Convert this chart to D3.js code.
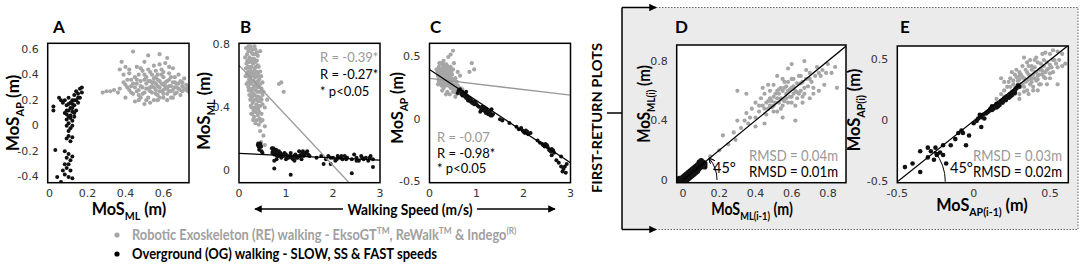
<!DOCTYPE html>
<html>
<head>
<meta charset="utf-8">
<script src="https://cdn.jsdelivr.net/npm/d3@7"></script>
<style>
  body { margin: 0; background: #fff; }
  text { font-family: Lato, "Open Sans", sans-serif; }
  .tick { font-family: "DejaVu Sans", Verdana, sans-serif; font-size: 11px; fill: #333; }
</style>
</head>
<body>
<svg id="chart"></svg>
<script>
// ---- data ----
// A: MoS_ML (x) vs MoS_AP (y)
const aGray = [[0.28,0.26],[0.30,0.27],[0.32,0.27],[0.34,0.28],[0.36,0.26],[0.37,0.29],[0.38,0.5],[0.39,0.4],[0.40,0.32],[0.40,0.22],[0.41,0.36],[0.42,0.28],[0.42,0.44],[0.43,0.31],[0.44,0.58],[0.44,0.25],[0.45,0.38],[0.45,0.19],[0.46,0.33],[0.46,0.46],[0.47,0.28],[0.47,0.4],[0.48,0.22],[0.48,0.35],[0.49,0.3],[0.49,0.43],[0.5,0.26],[0.5,0.5],[0.5,0.17],[0.51,0.33],[0.51,0.38],[0.52,0.22],[0.52,0.55],[0.52,0.29],[0.53,0.35],[0.53,0.42],[0.54,0.26],[0.54,0.31],[0.55,0.2],[0.55,0.47],[0.55,0.37],[0.56,0.28],[0.56,0.33],[0.57,0.24],[0.57,0.4],[0.58,0.56],[0.58,0.3],[0.58,0.35],[0.59,0.27],[0.59,0.44],[0.6,0.22],[0.6,0.32],[0.6,0.38],[0.61,0.29],[0.61,0.49],[0.62,0.53],[0.62,0.25],[0.62,0.35],[0.63,0.31],[0.63,0.41],[0.64,0.27],[0.64,0.22],[0.65,0.34],[0.65,0.45],[0.66,0.3],[0.66,0.38],[0.67,0.26],[0.67,0.33],[0.68,0.29],[0.68,0.4],[0.69,0.24],[0.69,0.35],[0.7,0.31],[0.7,0.27],[0.71,0.37],[0.72,0.32],[0.72,0.28],[0.73,0.3],[0.74,0.26],[0.75,0.28],[0.76,0.25],[0.78,0.24],[0.47,0.2],[0.53,0.18],[0.43,0.36],[0.57,0.2],[0.65,0.22],[0.45,0.3],[0.5,0.36],[0.55,0.3],[0.6,0.28],[0.54,0.4],
  [0.44,0.33],[0.46,0.27],[0.48,0.31],[0.49,0.25],[0.51,0.29],[0.52,0.35],[0.53,0.27],[0.54,0.34],[0.56,0.25],[0.56,0.38],[0.57,0.31],[0.58,0.27],[0.59,0.33],[0.6,0.25],[0.61,0.34],[0.62,0.29],[0.63,0.27],[0.63,0.36],[0.64,0.31],[0.65,0.28],[0.66,0.25],[0.66,0.34],[0.67,0.3],[0.68,0.33],[0.69,0.28],[0.7,0.34],[0.71,0.29],[0.73,0.27],[0.74,0.31],[0.76,0.29],[0.77,0.27],[0.5,0.4],[0.48,0.45],[0.52,0.44],[0.56,0.43],[0.6,0.42],[0.47,0.24],[0.51,0.2],[0.58,0.22],[0.62,0.2],[0.41,0.3],[0.43,0.26],[0.39,0.34],[0.46,0.36],[0.55,0.34],[0.53,0.3],[0.57,0.36],[0.61,0.31],[0.64,0.38],[0.59,0.4],[0.42,0.41],[0.37,0.44],[0.4,0.46],[0.58,0.48],[0.63,0.46]];
const aBlack = [[0.02,0.15],[0.02,0.12],[0.05,0.22],[0.06,0.2],[0.07,0.18],[0.08,0.2],[0.08,0.1],[0.09,0.16],[0.09,0.05],[0.1,0.22],[0.1,0.12],[0.1,0.02],[0.11,0.18],[0.11,0.08],[0.11,0.14],[0.12,0.2],[0.12,0.04],[0.12,0.11],[0.13,0.24],[0.13,0.16],[0.13,0.07],[0.14,0.27],[0.14,0.2],[0.14,0.12],[0.15,0.25],[0.15,0.18],[0.16,0.29],[0.16,0.22],[0.17,0.3],[0.17,0.26],[0.09,0.0],[0.1,-0.04],[0.11,-0.02],[0.09,-0.1],[0.1,-0.08],[0.11,-0.12],[0.12,-0.09],[0.08,-0.2],[0.09,-0.25],[0.1,-0.22],[0.11,-0.27],[0.12,-0.24],[0.08,-0.3],[0.1,-0.3],[0.07,-0.35],[0.09,-0.33],[0.11,-0.35],[0.08,-0.38],[0.1,-0.4],[0.12,-0.41],[0.04,-0.4],[0.06,-0.44],[0.03,-0.19],[0.12,0.14],[0.1,0.17],[0.13,0.1],[0.09,0.12],[0.11,0.06],[0.12,0.0],[0.1,0.07],[0.12,0.17],[0.13,0.2],[0.15,0.22],[0.09,0.09]];

// B: walking speed (x) vs MoS_ML (y)
const bGray = [[0.15,0.78],[0.2,0.76],[0.25,0.79],[0.3,0.74],[0.35,0.77],[0.45,0.76],[0.18,0.7],[0.22,0.72],[0.27,0.69],[0.32,0.71],[0.38,0.7],[0.15,0.65],[0.2,0.66],[0.24,0.64],[0.28,0.62],[0.33,0.65],[0.37,0.63],[0.42,0.66],[0.18,0.6],[0.22,0.58],[0.26,0.6],[0.3,0.57],[0.34,0.59],[0.38,0.56],[0.43,0.58],[0.47,0.6],[0.2,0.53],[0.24,0.55],[0.28,0.52],[0.32,0.54],[0.36,0.51],[0.4,0.53],[0.44,0.5],[0.48,0.52],[0.22,0.48],[0.26,0.46],[0.3,0.49],[0.34,0.45],[0.38,0.47],[0.42,0.44],[0.46,0.46],[0.5,0.48],[0.25,0.41],[0.29,0.43],[0.33,0.4],[0.37,0.42],[0.41,0.39],[0.45,0.41],[0.28,0.36],[0.32,0.34],[0.36,0.37],[0.4,0.35],[0.44,0.33],[0.48,0.36],[0.35,0.3],[0.42,0.29],[0.5,0.32],[0.55,0.28],[0.45,0.25],[0.52,0.22],[0.55,0.16],[0.47,0.18],[0.85,0.55],[0.9,0.56],[0.95,0.5],[0.6,0.45],[0.55,0.4],[0.3,0.68],[0.35,0.62],[0.25,0.57],[0.4,0.6],[0.3,0.44],[0.2,0.63],[0.27,0.75],[0.5,0.56],[0.75,0.13],[0.82,0.12],
  [0.17,0.74],[0.23,0.78],[0.28,0.77],[0.33,0.74],[0.4,0.73],[0.16,0.68],[0.21,0.69],[0.25,0.71],[0.29,0.71],[0.35,0.69],[0.4,0.67],[0.17,0.62],[0.22,0.62],[0.26,0.66],[0.31,0.63],[0.36,0.66],[0.41,0.62],[0.45,0.63],[0.19,0.56],[0.23,0.6],[0.27,0.56],[0.32,0.6],[0.36,0.56],[0.41,0.57],[0.45,0.55],[0.21,0.51],[0.26,0.5],[0.31,0.52],[0.35,0.54],[0.39,0.5],[0.43,0.53],[0.47,0.5],[0.24,0.45],[0.28,0.47],[0.33,0.48],[0.37,0.45],[0.41,0.47],[0.45,0.44],[0.27,0.4],[0.31,0.38],[0.35,0.39],[0.39,0.41],[0.43,0.37],[0.3,0.32],[0.38,0.32],[0.46,0.31],[0.26,0.36],[0.5,0.42],[0.52,0.5],[0.13,0.72],[0.14,0.6],[0.16,0.55],[0.2,0.79],[0.33,0.79],[0.38,0.75],[0.48,0.45]];
const bBlack = [[0.4,0.16],[0.42,0.15],[0.45,0.17],[0.47,0.15],[0.43,0.13],[0.48,0.12],[0.5,0.11],[0.7,0.14],[0.72,0.12],[0.75,0.1],[0.77,0.13],[0.8,0.11],[0.82,0.09],[0.85,0.12],[0.87,0.1],[0.9,0.08],[0.75,0.06],[0.8,0.07],[0.95,0.09],[1.0,0.1],[1.05,0.08],[1.1,0.09],[1.15,0.07],[1.2,0.1],[1.25,0.08],[1.3,0.09],[1.35,0.11],[1.4,0.1],[1.45,0.12],[1.5,0.09],[1.33,0.07],[1.28,0.12],[1.18,0.06],[1.1,0.11],[1.65,0.08],[1.75,0.09],[1.85,0.07],[1.9,0.09],[2.0,0.08],[2.05,0.06],[2.1,0.09],[2.15,0.08],[2.2,0.07],[2.25,0.09],[2.3,0.08],[2.4,0.07],[2.45,0.1],[2.5,0.08],[2.55,0.06],[2.6,0.09],[2.65,0.07],[2.7,0.08],[2.75,0.06],[2.8,0.09],[2.85,0.07],[2.85,0.02],[0.75,0.01],[1.1,-0.03],[1.8,0.04],[2.4,-0.02],[1.95,0.04],
  [0.41,0.17],[0.44,0.15],[0.46,0.16],[0.71,0.11],[0.73,0.14],[0.76,0.12],[0.78,0.1],[0.79,0.13],[0.81,0.09],[0.83,0.11],[0.86,0.09],[0.88,0.11],[0.92,0.1],[1.02,0.08],[1.07,0.09],[1.12,0.08],[1.17,0.09],[1.22,0.08],[1.27,0.09],[1.32,0.1],[1.37,0.09],[1.42,0.11],[1.47,0.1],[1.36,0.12],[1.95,0.08],[2.08,0.07],[2.18,0.09],[2.28,0.07],[2.5,0.06],[2.62,0.08],[2.78,0.08],[1.0,0.07],[0.97,0.11]];

// C: walking speed (x) vs MoS_AP (y)
const cGray = [[0.15,0.4],[0.18,0.35],[0.2,0.42],[0.2,0.3],[0.22,0.38],[0.23,0.33],[0.25,0.45],[0.25,0.27],[0.27,0.36],[0.28,0.4],[0.28,0.3],[0.3,0.34],[0.3,0.25],[0.31,0.44],[0.32,0.38],[0.33,0.3],[0.34,0.35],[0.35,0.41],[0.35,0.27],[0.37,0.33],[0.38,0.38],[0.38,0.22],[0.4,0.3],[0.4,0.35],[0.42,0.27],[0.43,0.4],[0.44,0.32],[0.45,0.25],[0.47,0.3],[0.48,0.36],[0.5,0.22],[0.5,0.28],[0.52,0.32],[0.55,0.25],[0.55,0.18],[0.58,0.2],[0.6,0.27],[0.62,0.22],[0.65,0.25],[0.7,0.24],[0.5,0.55],[0.45,0.52],[0.4,0.5],[0.9,0.45],[0.95,0.4],[0.85,0.38],[0.6,0.38],[0.22,0.36],[0.26,0.32],[0.32,0.28],[0.36,0.3],[0.42,0.36],[0.18,0.28],[0.24,0.39],[0.29,0.37],[0.33,0.42],[0.46,0.38],[0.5,0.4],[0.27,0.23],[0.35,0.2],[0.43,0.2],[0.52,0.45],[0.65,0.35],
  [0.2,0.36],[0.21,0.33],[0.22,0.4],[0.23,0.29],[0.24,0.36],[0.25,0.33],[0.26,0.38],[0.26,0.28],[0.27,0.33],[0.28,0.35],[0.29,0.31],[0.29,0.42],[0.3,0.37],[0.31,0.32],[0.31,0.28],[0.32,0.35],[0.33,0.33],[0.33,0.38],[0.34,0.3],[0.35,0.36],[0.36,0.33],[0.36,0.4],[0.37,0.28],[0.38,0.31],[0.39,0.35],[0.4,0.27],[0.41,0.32],[0.41,0.38],[0.42,0.3],[0.44,0.35],[0.45,0.28],[0.46,0.33],[0.48,0.27],[0.48,0.32],[0.5,0.25],[0.52,0.28],[0.53,0.22],[0.56,0.23],[0.58,0.25],[0.62,0.25],[0.64,0.22],[0.67,0.21],[0.19,0.32],[0.21,0.45],[0.27,0.44],[0.24,0.3],[0.36,0.44],[0.39,0.42],[0.3,0.47],[0.45,0.42],[0.55,0.33],[0.58,0.3],[0.17,0.38],[0.2,0.38]];
const cBlack = [[0.6,0.21],[0.65,0.24],[0.68,0.2],[0.7,0.22],[0.72,0.19],[0.75,0.2],[0.78,0.17],[0.8,0.18],[0.82,0.15],[0.85,0.17],[0.88,0.14],[0.9,0.15],[0.93,0.13],[0.95,0.12],[0.98,0.13],[1.02,0.11],[1.05,0.1],[1.1,0.08],[1.12,0.1],[1.15,0.07],[1.18,0.08],[1.2,0.05],[1.22,0.07],[1.25,0.04],[1.28,0.06],[1.3,0.03],[1.35,0.04],[1.5,0.0],[1.55,-0.01],[1.7,-0.03],[1.85,-0.06],[1.9,-0.08],[1.95,-0.07],[2.0,-0.1],[2.05,-0.09],[2.1,-0.12],[2.15,-0.11],[2.3,-0.17],[2.35,-0.19],[2.4,-0.2],[2.45,-0.22],[2.5,-0.21],[2.55,-0.25],[2.6,-0.24],[2.65,-0.27],[2.7,-0.33],[2.75,-0.35],[2.8,-0.38],[2.85,-0.4],[2.9,-0.43],[2.92,-0.36],[2.8,-0.3],[2.6,-0.29],[1.32,0.08],[1.08,0.06],[0.78,0.22],
  [0.62,0.23],[0.67,0.22],[0.7,0.19],[0.73,0.21],[0.76,0.18],[0.79,0.19],[0.81,0.17],[0.84,0.15],[0.87,0.16],[0.91,0.13],[0.96,0.14],[1.0,0.12],[1.13,0.08],[1.16,0.09],[1.19,0.06],[1.21,0.08],[1.24,0.06],[1.27,0.04],[1.29,0.05],[1.33,0.03],[1.98,-0.09],[2.03,-0.11],[2.08,-0.1],[2.42,-0.21],[2.47,-0.2],[2.52,-0.23],[2.58,-0.26],[2.63,-0.25],[2.88,-0.38],[2.83,-0.42]];

// D: MoS_ML(i-1) vs MoS_ML(i)
const dGray = [[0.15,0.16],[0.2,0.2],[0.22,0.3],[0.28,0.32],[0.3,0.4],[0.32,0.35],[0.35,0.45],[0.36,0.38],[0.38,0.48],[0.4,0.42],[0.4,0.52],[0.42,0.46],[0.43,0.55],[0.44,0.5],[0.45,0.58],[0.46,0.44],[0.47,0.53],[0.48,0.6],[0.49,0.49],[0.5,0.56],[0.5,0.64],[0.51,0.52],[0.52,0.46],[0.53,0.58],[0.54,0.62],[0.55,0.54],[0.55,0.5],[0.56,0.66],[0.57,0.58],[0.58,0.52],[0.59,0.61],[0.6,0.56],[0.6,0.68],[0.61,0.63],[0.62,0.5],[0.63,0.59],[0.64,0.7],[0.65,0.65],[0.66,0.56],[0.67,0.62],[0.68,0.74],[0.7,0.68],[0.72,0.62],[0.74,0.76],[0.76,0.7],[0.78,0.64],[0.8,0.78],[0.82,0.72],[0.35,0.58],[0.3,0.6],[0.45,0.38],[0.55,0.42],[0.7,0.55],[0.75,0.6],[0.52,0.7],[0.58,0.75],[0.62,0.4],[0.48,0.55],[0.57,0.63],[0.53,0.52],[0.65,0.6],[0.44,0.62],[0.25,0.24],[0.6,0.78],[0.67,0.8],
  [0.46,0.52],[0.47,0.48],[0.49,0.53],[0.5,0.5],[0.51,0.58],[0.52,0.55],[0.53,0.61],[0.54,0.55],[0.55,0.6],[0.56,0.53],[0.56,0.62],[0.57,0.55],[0.58,0.6],[0.58,0.66],[0.59,0.56],[0.6,0.62],[0.61,0.58],[0.61,0.68],[0.62,0.6],[0.63,0.65],[0.64,0.58],[0.65,0.7],[0.66,0.66],[0.67,0.58],[0.68,0.68],[0.69,0.63],[0.7,0.72],[0.71,0.66],[0.73,0.7],[0.75,0.72],[0.77,0.74],[0.79,0.72],[0.5,0.46],[0.48,0.5],[0.45,0.48],[0.42,0.5],[0.52,0.6],[0.54,0.48],[0.6,0.52],[0.63,0.55],[0.66,0.52],[0.72,0.58],[0.84,0.76],[0.85,0.62],[0.4,0.36],[0.37,0.42],[0.34,0.4],[0.29,0.27],[0.47,0.64],[0.55,0.68]];
const dBlack = [[-0.01,0.0],[0.0,0.01],[0.01,0.0],[0.01,0.02],[0.02,0.01],[0.02,0.03],[0.03,0.02],[0.03,0.04],[0.04,0.03],[0.04,0.05],[0.05,0.04],[0.05,0.06],[0.06,0.05],[0.06,0.07],[0.07,0.06],[0.07,0.08],[0.08,0.07],[0.08,0.09],[0.09,0.08],[0.09,0.1],[0.1,0.09],[0.1,0.11],[0.11,0.1],[0.02,0.0],[0.03,0.01],[0.04,0.02],[0.05,0.03],[0.06,0.04],[0.07,0.05],[0.08,0.06],[0.0,0.02],[0.01,0.03],[0.02,0.04],[0.03,0.05],[0.04,0.06],[0.05,0.07],[0.06,0.08],[0.07,0.09],[0.08,0.1],[0.12,0.11],[0.11,0.12],[0.0,0.0],[-0.02,0.01],[0.09,0.12],[0.1,0.13],[0.12,0.09],[-0.02,-0.01]];

// E: MoS_AP(i-1) vs MoS_AP(i)
const eGray = [[0.15,0.18],[0.18,0.22],[0.2,0.25],[0.2,0.32],[0.22,0.2],[0.22,0.28],[0.24,0.35],[0.25,0.24],[0.26,0.3],[0.27,0.38],[0.28,0.26],[0.29,0.33],[0.3,0.4],[0.3,0.22],[0.31,0.3],[0.32,0.36],[0.33,0.28],[0.34,0.42],[0.35,0.33],[0.35,0.25],[0.36,0.38],[0.37,0.3],[0.38,0.45],[0.38,0.35],[0.39,0.28],[0.4,0.4],[0.41,0.33],[0.42,0.48],[0.42,0.37],[0.43,0.3],[0.44,0.43],[0.45,0.38],[0.46,0.5],[0.47,0.35],[0.48,0.42],[0.5,0.46],[0.5,0.55],[0.52,0.4],[0.53,0.5],[0.55,0.44],[0.55,0.3],[0.45,0.55],[0.4,0.5],[0.35,0.48],[0.28,0.42],[0.25,0.4],[0.18,0.35],[0.33,0.52],[0.52,0.58],[0.42,0.25],[0.5,0.35],[0.3,0.18],[0.36,0.22],[0.48,0.3],
  [0.24,0.28],[0.26,0.33],[0.27,0.27],[0.28,0.36],[0.29,0.3],[0.3,0.34],[0.31,0.38],[0.32,0.3],[0.33,0.35],[0.34,0.32],[0.35,0.4],[0.36,0.34],[0.37,0.37],[0.38,0.32],[0.38,0.42],[0.39,0.38],[0.4,0.35],[0.4,0.44],[0.41,0.4],[0.42,0.34],[0.43,0.42],[0.43,0.38],[0.44,0.47],[0.45,0.41],[0.46,0.36],[0.46,0.45],[0.47,0.4],[0.48,0.48],[0.49,0.43],[0.5,0.39],[0.51,0.44],[0.52,0.5],[0.54,0.47],[0.56,0.5],[0.58,0.45],[0.58,0.55],[0.6,0.47],[0.36,0.45],[0.3,0.37],[0.23,0.32],[0.27,0.22],[0.33,0.24],[0.39,0.25],[0.44,0.3],[0.41,0.52],[0.37,0.5],[0.47,0.56],[0.32,0.45],[0.2,0.2],[0.55,0.57]];
const eBlack = [[-0.45,-0.38],[-0.4,-0.35],[-0.35,-0.42],[-0.3,-0.3],[-0.3,-0.22],[-0.28,-0.25],[-0.26,-0.32],[-0.25,-0.22],[-0.24,-0.28],[-0.22,-0.26],[-0.2,-0.28],[-0.2,-0.2],[-0.18,-0.35],[-0.15,-0.2],[-0.12,-0.15],[-0.1,-0.1],[-0.08,-0.08],[-0.07,-0.1],[-0.05,-0.2],[-0.03,-0.12],[0.02,0.0],[0.03,0.02],[0.05,0.03],[0.06,0.05],[0.07,0.02],[0.08,0.06],[0.1,0.08],[0.11,0.1],[0.12,0.09],[0.14,0.12],[0.15,0.11],[0.16,0.14],[0.17,0.13],[0.18,0.16],[0.19,0.15],[0.2,0.18],[0.21,0.17],[0.22,0.2],[0.23,0.19],[0.24,0.22],[0.25,0.21],[0.26,0.24],[0.27,0.25],[0.28,0.27],[0.3,0.28],[0.13,0.1],[0.16,0.12],[0.19,0.17],[0.09,0.07],[0.04,0.05],[0.0,-0.02],[-0.35,-0.25],[0.05,-0.05],[0.12,0.12],[0.15,0.14],[0.21,0.19],[0.24,0.2],[0.27,0.23],[0.29,0.29]];

// regression fits [intercept, slope]
const bFitGray = [0.67, -0.32];
const bFitBlack = [0.107, -0.0143];
const cFitGray = [0.328, -0.045];
const cFitBlack = [0.40, -0.25];

// tick values
const aXTicks = [0, 0.2, 0.4, 0.6];
const aYTicks = [-0.4, -0.2, 0, 0.2, 0.4, 0.6];
const bXTicks = [0, 1, 2, 3];
const bYTicks = [0, 0.4, 0.8];
const cXTicks = [0, 1, 2, 3];
const cYTicks = [-0.5, 0, 0.5];
const dXTicks = [0, 0.2, 0.4, 0.6, 0.8];
const dYTicks = [0, 0.4, 0.8];
const eXTicks = [-0.5, 0, 0.5];
const eYTicks = [-0.5, 0, 0.5];

const bStats = ["R = -0.39*", "R = -0.27*", "* p<0.05"];
const cStats = ["R = -0.07", "R = -0.98*", "* p<0.05"];
const dStats = ["RMSD = 0.04m", "RMSD = 0.01m"];
const eStats = ["RMSD = 0.03m", "RMSD = 0.02m"];

const GREY = "#a6a6a6";
const fmt = d => d === 0 ? "0" : String(d);

const svg = d3.select("#chart").attr("width", 1084).attr("height", 267);

const defs = svg.append("defs");
defs.append("marker")
    .attr("id", "arr")
    .attr("viewBox", "0 0 10 10")
    .attr("refX", 9).attr("refY", 5)
    .attr("markerWidth", 6).attr("markerHeight", 5)
    .attr("orient", "auto")
  .append("path")
    .attr("d", "M0,0 L10,5 L0,10 z")
    .attr("fill", "black");
defs.append("marker")
    .attr("id", "arrSmall")
    .attr("viewBox", "0 0 10 10")
    .attr("refX", 9).attr("refY", 5)
    .attr("markerWidth", 6).attr("markerHeight", 6)
    .attr("orient", "auto")
  .append("path")
    .attr("d", "M0,0 L10,5 L0,10")
    .attr("fill", "none")
    .attr("stroke", "black")
    .attr("stroke-width", 2);

// ---- first-return box (behind D and E) ----
const box = svg.append("g");
box.append("rect")
    .attr("x", 622).attr("y", 7.5)
    .attr("width", 456).attr("height", 222)
    .attr("fill", "#ebebeb");
box.append("path")
    .attr("d", "M656,7.5 H1078 V229.5 H656")
    .attr("fill", "none").attr("stroke", "#666")
    .attr("stroke-width", 1).attr("stroke-dasharray", "1.5,1.5");
box.append("path")
    .attr("d", "M607,113 H622")
    .attr("stroke", "black").attr("stroke-width", 1.5);
box.append("path")
    .attr("d", "M622,7.5 V229.5")
    .attr("stroke", "black").attr("stroke-width", 1.5);
[7.5, 229.5].forEach(y => {
  box.append("path")
      .attr("d", `M622,${y} H656`)
      .attr("stroke", "black").attr("stroke-width", 1.5)
      .attr("marker-end", "url(#arr)");
});
box.append("text")
    .attr("transform", "translate(602,118) rotate(-90)")
    .attr("text-anchor", "middle")
    .attr("font-size", 14).attr("font-weight", "bold")
    .attr("textLength", 150).attr("lengthAdjust", "spacingAndGlyphs")
    .text("FIRST-RETURN PLOTS");

// text with sub/superscripts: parts = [[text, "sub"|"sup"|null], ...]
// base is the transform that places it; width squeezes it horizontally to a target width
function richText(sel, parts, size, base, width) {
  let shift = 0;
  parts.forEach(([t, kind]) => {
    let target = kind === "sub" ? size * 0.3 : kind === "sup" ? -size * 0.4 : 0;
    sel.append("tspan")
        .attr("dy", target - shift)
        .attr("font-size", kind ? size * 0.65 : size)
        .text(t);
    shift = target;
  });
  let k = 1;
  if (width) k = width / sel.node().getBBox().width;
  sel.attr("transform", `${base} scale(${k},1)`);
  return sel;
}

function drawPanel(p) {
  const g = svg.append("g");
  const x = d3.scaleLinear().domain(p.xDomain).range([p.left, p.right]);
  const y = d3.scaleLinear().domain(p.yDomain).range([p.bottom, p.top]);

  g.append("rect")
      .attr("x", p.left).attr("y", p.top)
      .attr("width", p.right - p.left).attr("height", p.bottom - p.top)
      .attr("fill", "white");

  const clipId = "clip" + p.name;
  defs.append("clipPath").attr("id", clipId)
    .append("rect")
      .attr("x", p.left).attr("y", p.top)
      .attr("width", p.right - p.left).attr("height", p.bottom - p.top);

  const inner = g.append("g").attr("clip-path", `url(#${clipId})`);

  // points
  inner.selectAll("circle.gray")
      .data(p.gray)
    .join("circle")
      .attr("class", "gray")
      .attr("cx", d => x(d[0])).attr("cy", d => y(d[1]))
      .attr("r", 2.1).attr("fill", GREY);
  inner.selectAll("circle.black")
      .data(p.black)
    .join("circle")
      .attr("class", "black")
      .attr("cx", d => x(d[0])).attr("cy", d => y(d[1]))
      .attr("r", p.blackR || 2).attr("fill", "#111");

  // fit lines
  (p.fits || []).forEach(([fit, col]) => {
    const [x0, x1] = p.xDomain;
    inner.append("line")
        .attr("x1", x(x0)).attr("y1", y(fit[0] + fit[1] * x0))
        .attr("x2", x(x1)).attr("y2", y(fit[0] + fit[1] * x1))
        .attr("stroke", col).attr("stroke-width", 1.3);
  });

  // identity line + 45 degree arc
  if (p.identity) {
    const a = p.identity[0], b = p.identity[1];
    inner.append("line")
        .attr("x1", x(a)).attr("y1", y(a))
        .attr("x2", x(b)).attr("y2", y(b))
        .attr("stroke", "black").attr("stroke-width", 1.3);
    const ox = x(a), oy = y(a);
    const ang = Math.atan2(oy - y(b), x(b) - ox);
    const r = p.arcR;
    g.append("path")
        .attr("d", `M${ox + r},${oy} A${r},${r} 0 0 0 ${ox + r * Math.cos(ang)},${oy - r * Math.sin(ang)}`)
        .attr("fill", "none").attr("stroke", "black").attr("stroke-width", 1)
        .attr("marker-end", "url(#arrSmall)");
    g.append("text")
        .attr("x", p.degPos[0]).attr("y", p.degPos[1])
        .attr("font-size", 14.5).attr("fill", "black")
        .text("45°");
  }

  // frame
  g.append("rect")
      .attr("x", p.left).attr("y", p.top)
      .attr("width", p.right - p.left).attr("height", p.bottom - p.top)
      .attr("fill", "none").attr("stroke", "black").attr("stroke-width", 1.5);

  // tick labels
  g.selectAll("text.xt")
      .data(p.xTicks)
    .join("text")
      .attr("class", "tick xt")
      .attr("x", d => x(d)).attr("y", p.bottom + 14)
      .attr("text-anchor", "middle")
      .text(fmt);
  g.selectAll("text.yt")
      .data(p.yTicks)
    .join("text")
      .attr("class", "tick yt")
      .attr("x", p.left - 9).attr("y", d => y(d))
      .attr("text-anchor", "end")
      .attr("dominant-baseline", "central")
      .text(fmt);

  // panel letter
  g.append("text")
      .attr("x", p.letterX).attr("y", 33)
      .attr("font-family", "Liberation Sans, Arial, sans-serif")
      .attr("font-size", 17).attr("font-weight", "bold")
      .text(p.name);

  // axis labels
  if (p.yLabel) {
    richText(g.append("text")
        .attr("text-anchor", "middle")
        .attr("font-weight", "bold"), p.yLabel, 17,
        `translate(${p.yLabelPos[0]},${p.yLabelPos[1]}) rotate(-90)`, p.yLabelLen);
  }
  if (p.xLabel) {
    richText(g.append("text")
        .attr("text-anchor", "middle")
        .attr("font-weight", "bold"), p.xLabel, 17,
        `translate(${p.xLabelPos[0]},${p.xLabelPos[1]})`, p.xLabelLen);
  }

  // stats text
  (p.stats || []).forEach((s, i) => {
    const t = g.append("text")
        .attr("x", p.statsPos[0]).attr("y", p.statsPos[1] + i * p.statsGap)
        .attr("font-size", p.statsSize)
        .attr("fill", p.statsCols[i])
        .text(s);
    if (p.statsLen) t.attr("textLength", p.statsLen).attr("lengthAdjust", "spacingAndGlyphs");
  });
}

drawPanel({
  name: "A", left: 47.7, right: 189, top: 43.3, bottom: 182.7,
  xDomain: [-0.01, 0.735], yDomain: [-0.445, 0.645],
  xTicks: aXTicks, yTicks: aYTicks, gray: aGray, black: aBlack,
  letterX: 53,
  yLabel: [["MoS"], ["AP", "sub"], [" (m)"]], yLabelPos: [19, 113], yLabelLen: 77,
  xLabel: [["MoS"], ["ML", "sub"], [" (m)"]], xLabelPos: [129, 215], xLabelLen: 75
});

drawPanel({
  name: "B", left: 239, right: 380, top: 43.3, bottom: 182.7,
  xDomain: [0, 3], yDomain: [-0.08, 0.81],
  xTicks: bXTicks, yTicks: bYTicks, gray: bGray, black: bBlack,
  fits: [[bFitGray, "#999"], [bFitBlack, "black"]],
  letterX: 240,
  yLabel: [["MoS"], ["ML", "sub"], [" (m)"]], yLabelPos: [210, 111], yLabelLen: 78,
  stats: bStats, statsPos: [320, 62], statsGap: 17, statsSize: 13,
  statsCols: ["#999", "black", "black"]
});

drawPanel({
  name: "C", left: 429.5, right: 570.5, top: 43.3, bottom: 182.7,
  xDomain: [0, 3], yDomain: [-0.51, 0.61],
  xTicks: cXTicks, yTicks: cYTicks, gray: cGray, black: cBlack,
  fits: [[cFitGray, "#999"], [cFitBlack, "black"]],
  letterX: 430,
  yLabel: [["MoS"], ["AP", "sub"], [" (m)"]], yLabelPos: [403, 108], yLabelLen: 72,
  stats: cStats, statsPos: [437, 142], statsGap: 15.5, statsSize: 13,
  statsCols: ["#999", "black", "black"]
});

drawPanel({
  name: "D", left: 676.7, right: 846, top: 45, bottom: 182.7,
  xDomain: [-0.035, 0.9], yDomain: [-0.018, 0.908],
  xTicks: dXTicks, yTicks: dYTicks, gray: dGray, black: dBlack, blackR: 2.8,
  identity: [0, 0.92], arcR: 34, degPos: [713, 173],
  letterX: 675,
  yLabel: [["MoS"], ["ML(i)", "sub"], [" (m)"]], yLabelPos: [650, 104], yLabelLen: 78,
  xLabel: [["MoS"], ["ML(i-1)", "sub"], [" (m)"]], xLabelPos: [752, 215], xLabelLen: 82,
  stats: dStats, statsPos: [749, 161], statsGap: 16, statsSize: 14.5, statsLen: 89,
  statsCols: ["#999", "black"]
});

drawPanel({
  name: "E", left: 897.3, right: 1068.3, top: 46, bottom: 182.7,
  xDomain: [-0.5, 0.62], yDomain: [-0.508, 0.615],
  xTicks: eXTicks, yTicks: eYTicks, gray: eGray, black: eBlack, blackR: 2.3,
  identity: [-0.5, 0.63], arcR: 48, degPos: [950, 173],
  letterX: 900,
  yLabel: [["MoS"], ["AP(i)", "sub"], [" (m)"]], yLabelPos: [860, 110], yLabelLen: 83,
  xLabel: [["MoS"], ["AP(i-1)", "sub"], [" (m)"]], xLabelPos: [982, 211], xLabelLen: 92,
  stats: eStats, statsPos: [973, 161], statsGap: 16, statsSize: 14.5, statsLen: 89,
  statsCols: ["#999", "black"]
});

// ---- walking speed axis label with arrows ----
svg.append("line")
    .attr("x1", 343).attr("y1", 209).attr("x2", 255).attr("y2", 209)
    .attr("stroke", "black").attr("stroke-width", 1.5)
    .attr("marker-end", "url(#arr)");
svg.append("line")
    .attr("x1", 477).attr("y1", 209).attr("x2", 555).attr("y2", 209)
    .attr("stroke", "black").attr("stroke-width", 1.5)
    .attr("marker-end", "url(#arr)");
svg.append("text")
    .attr("x", 410).attr("y", 215)
    .attr("text-anchor", "middle")
    .attr("font-size", 15).attr("font-weight", "bold")
    .attr("textLength", 125).attr("lengthAdjust", "spacingAndGlyphs")
    .text("Walking Speed (m/s)");

// ---- legend ----
const legend = svg.append("g");
legend.append("circle").attr("cx", 117).attr("cy", 235).attr("r", 2.6).attr("fill", GREY);
legend.append("circle").attr("cx", 117).attr("cy", 254).attr("r", 2.6).attr("fill", "black");
richText(legend.append("text")
    .attr("font-weight", "bold").attr("fill", "#a0a0a0"),
  [["Robotic Exoskeleton (RE) walking - EksoGT"], ["TM", "sup"], [", ReWalk"], ["TM", "sup"], [" & Indego"], ["(R)", "sup"]],
  14.5, "translate(132,240)", 385);
legend.append("text")
    .attr("x", 132).attr("y", 259)
    .attr("font-weight", "bold").attr("font-size", 14.5)
    .attr("textLength", 305).attr("lengthAdjust", "spacingAndGlyphs")
    .text("Overground (OG) walking - SLOW, SS & FAST speeds");
</script>
</body>
</html>
